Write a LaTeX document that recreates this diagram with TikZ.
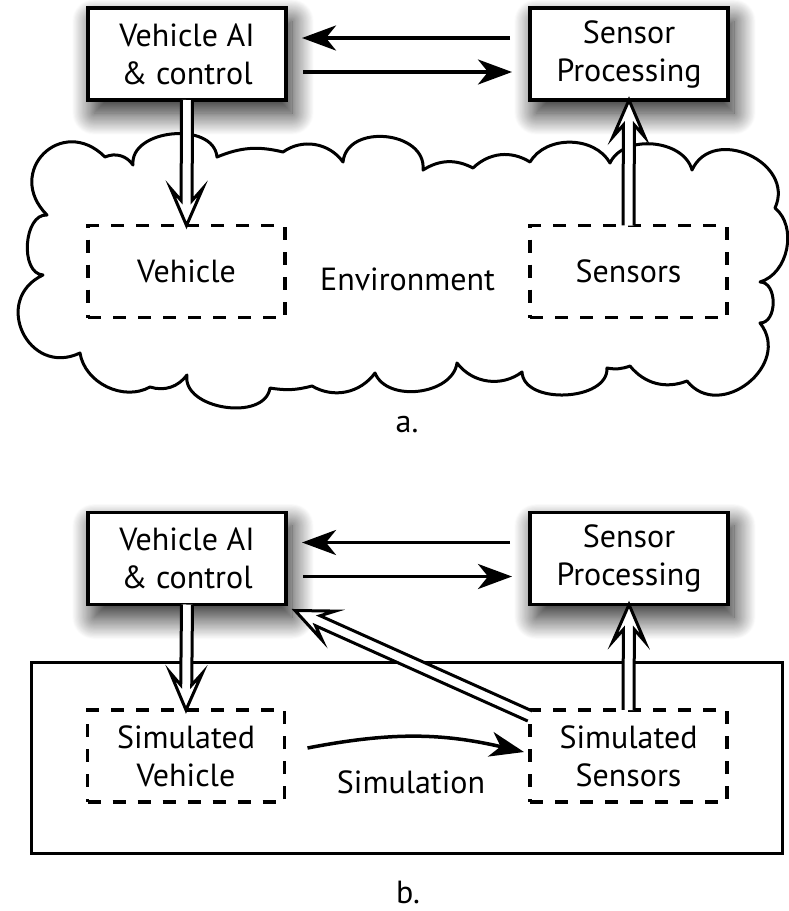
\documentclass[tikz,border=0pt]{standalone}
\usepackage{fontspec}
\setmainfont{PT Sans}
\usetikzlibrary{arrows.meta,shadows.blur}

\tikzset{
  every node/.style={font=\fontsize{32}{38}\selectfont},
  solidbox/.style={draw, line width=3.5pt, fill=white, minimum width=198pt,
    minimum height=92pt, inner sep=0pt, outer sep=0pt, align=center,
    blur shadow={shadow xshift=6pt, shadow yshift=-13pt,
      shadow blur radius=22pt, shadow blur steps=40, shadow opacity=90}},
  dashbox/.style={draw, line width=3.5pt, dash pattern=on 13pt off 12pt,
    minimum width=197pt, minimum height=92pt, inner sep=0pt, outer sep=0pt,
    align=center},
  simframe/.style={draw, line width=3pt, minimum width=751pt,
    minimum height=191pt, inner sep=0pt, outer sep=0pt},
  txt/.style={anchor=base, inner sep=0pt},
  thinarrow/.style={line width=3.5pt,
    -{Stealth[length=34pt,width=25pt,inset=10pt]}},
  hollow/.style={line width=3pt, fill=white, line join=miter},
  cloudline/.style={line width=3pt, line join=round},
  bump/.style={bend left=90, looseness=#1},
}

% Hollow (outlined) arrow from coordinate #1 to coordinate #2
\newcommand\hollowarrow[2]{%
  \pgfpointdiff{\pgfpointanchor{#1}{center}}{\pgfpointanchor{#2}{center}}%
  \pgfgetlastxy{\harx}{\hary}%
  \pgfmathsetmacro\harang{atan2(\hary,\harx)}%
  \pgfmathsetmacro\harlen{veclen(\harx,\hary)}%
  \pgfmathsetmacro\harneck{\harlen-25}%
  \pgfmathsetmacro\harbarb{\harlen-37}%
  \begin{scope}[shift={(#1)},rotate=\harang]
    \filldraw[hollow] (0pt,5.5pt) -- (\harneck pt,5.5pt) -- (\harbarb pt,16pt)
      -- (\harlen pt,0pt) -- (\harbarb pt,-16pt) -- (\harneck pt,-5.5pt)
      -- (0pt,-5.5pt);
  \end{scope}}

\begin{document}
\begin{tikzpicture}[x=1pt, y=-1pt]
\useasboundingbox (0,0) rectangle (788,911);

% ---------- a. real world ----------
% environment cloud, traced clockwise from cusp to cusp
\draw[cloudline] (47,215)
  to[bump=1.9] (105,157)
  to[bend left=40] (133,165)
  to[bump=1.1] (217,157)
  to[bend left=18] (283,152)
  to[bend left=45] (343,162)
  to[bump=1.25] (423,170)
  to[bend left=30] (473,168)
  to[bend left=38] (530,162)
  to[bend left=60] (610,163)
  to[bend left=70] (692,170)
  to[bump=1.4] (775,208)
  to[bend left=62] (760,282)
  to[bump=1.1] (760,323)
  to[bump=1.45] (687,381)
  to[bend left=36] (630,366)
  to[bend left=15] (607,368)
  to[bump=1.0] (522,372)
  to[bend left=45] (457,363)
  to[bend left=75] (375,373)
  to[bend left=42] (312,386)
  to[bend left=12] (270,388)
  to[bump=1.05] (187,375)
  to[bend left=35] (150,387)
  to[bend left=55] (80,353)
  to[bump=1.7] (43,275)
  to[bump=1.0] (47,215) -- cycle;

\node[solidbox] (vai) at (187,54) {Vehicle AI\\\& control};
\node[solidbox] (sp) at (629,54) {Sensor\\Processing};
\node[dashbox] (veh) at (186.5,271.5) {Vehicle};
\node[dashbox] (sen) at (628.5,271.5) {Sensors};
\node[txt] (env) at (407.5,290) {Environment};
\node[txt] (capa) at (407,432) {a.};

\draw[thinarrow] ([shift={(-20pt,16pt)}]sp.west) -- ([shift={(16pt,16pt)}]vai.east);
\draw[thinarrow] ([shift={(17pt,-18pt)}]vai.east) -- ([shift={(-18pt,-18pt)}]sp.west);

\coordinate (downA) at (vai.south);
\coordinate (downAend) at (veh.north);
\coordinate (upA) at (sen.north);
\coordinate (upAend) at (sp.south);
\hollowarrow{downA}{downAend}
\hollowarrow{upA}{upAend}

% ---------- b. simulation ----------
\node[simframe] (sim) at (406.5,757.5) {};
\node[solidbox] (vai2) at (187,558.5) {Vehicle AI\\\& control};
\node[solidbox] (sp2) at (629,558.5) {Sensor\\Processing};
\node[dashbox] (sveh) at (186,756) {Simulated\\Vehicle};
\node[dashbox] (ssen) at (628.5,756) {Simulated\\Sensors};
\node[txt] (simtxt) at (411,793) {Simulation};
\node[txt] (capb) at (408,903) {b.};

\draw[thinarrow] ([shift={(-20pt,16pt)}]sp2.west) -- ([shift={(16pt,16pt)}]vai2.east);
\draw[thinarrow] ([shift={(17pt,-18pt)}]vai2.east) -- ([shift={(-18pt,-18pt)}]sp2.west);
\draw[thinarrow] ([shift={(23pt,8pt)}]sveh.east) to[bend left=12] ([shift={(-6pt,4pt)}]ssen.west);

\coordinate (downB) at (vai2.south);
\coordinate (downBend) at (sveh.north);
\coordinate (upB) at (ssen.north);
\coordinate (upBend) at (sp2.south);
\coordinate (diagB) at ([yshift=-6pt]ssen.north west);
\coordinate (diagBend) at ([shift={(9pt,-6pt)}]vai2.south east);
\hollowarrow{downB}{downBend}
\hollowarrow{upB}{upBend}
\hollowarrow{diagB}{diagBend}
\end{tikzpicture}
\end{document}
